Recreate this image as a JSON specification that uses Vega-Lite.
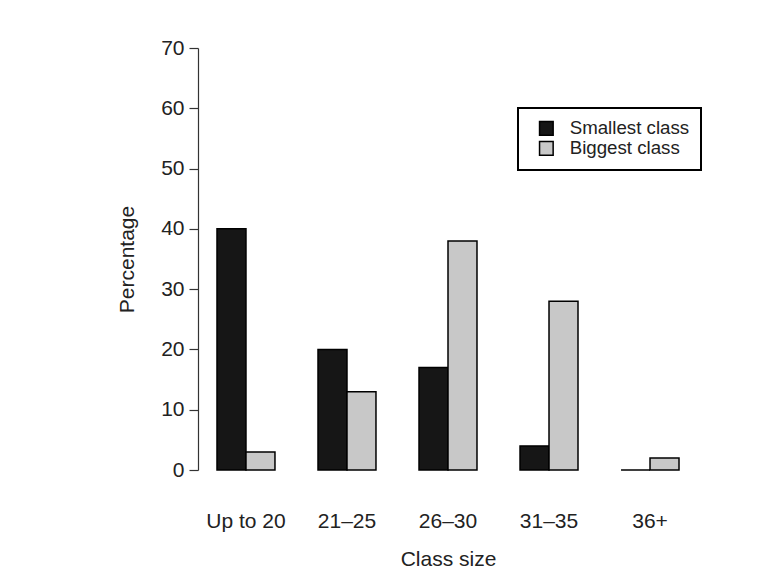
{
  "$schema": "https://vega.github.io/schema/vega-lite/v6.json",
  "width": 500,
  "height": 422,
  "autosize": {"type": "none"},
  "padding": {"left": 198, "top": 48, "right": 69, "bottom": 109},
  "background": "white",
  "config": {
    "view": {"stroke": null},
    "font": "Liberation Sans",
    "legend": {"strokeWidth": 2}
  },
  "data": {
    "values": [
      {"size": "Up to 20", "group": "Smallest class", "pct": 40},
      {"size": "Up to 20", "group": "Biggest class", "pct": 3},
      {"size": "21\u201325", "group": "Smallest class", "pct": 20},
      {"size": "21\u201325", "group": "Biggest class", "pct": 13},
      {"size": "26\u201330", "group": "Smallest class", "pct": 17},
      {"size": "26\u201330", "group": "Biggest class", "pct": 38},
      {"size": "31\u201335", "group": "Smallest class", "pct": 4},
      {"size": "31\u201335", "group": "Biggest class", "pct": 28},
      {"size": "36+", "group": "Smallest class", "pct": 0},
      {"size": "36+", "group": "Biggest class", "pct": 2}
    ]
  },
  "mark": {"type": "bar", "stroke": "black", "strokeWidth": 1.5, "opacity": 1},
  "encoding": {
    "x": {
      "field": "size",
      "type": "nominal",
      "scale": {
        "domain": ["Up to 20", "21\u201325", "26\u201330", "31\u201335", "36+"],
        "paddingInner": 0.426,
        "paddingOuter": 0.188
      },
      "title": "Class size",
      "axis": {
        "domain": false,
        "ticks": false,
        "labelAngle": 0,
        "labelFontSize": 21,
        "labelColor": "#222",
        "labelPadding": 40,
        "titleFontSize": 21,
        "titleFontWeight": "normal",
        "titleColor": "#222",
        "titlePadding": 17
      }
    },
    "xOffset": {
      "field": "group",
      "type": "nominal",
      "scale": {"domain": ["Smallest class", "Biggest class"]}
    },
    "y": {
      "field": "pct",
      "type": "quantitative",
      "scale": {"domain": [0, 70], "nice": false},
      "title": "Percentage",
      "axis": {
        "values": [0, 10, 20, 30, 40, 50, 60, 70],
        "grid": false,
        "domainColor": "#333",
        "domainWidth": 1.2,
        "tickColor": "#333",
        "tickWidth": 1.2,
        "tickSize": 9,
        "labelFontSize": 21,
        "labelColor": "#222",
        "labelPadding": 5,
        "titleFontSize": 21,
        "titleFontWeight": "normal",
        "titleColor": "#222",
        "titlePadding": 23
      }
    },
    "fill": {
      "field": "group",
      "type": "nominal",
      "scale": {
        "domain": ["Smallest class", "Biggest class"],
        "range": ["#161616", "#c8c8c8"]
      },
      "legend": {
        "title": null,
        "orient": "none",
        "legendX": 320,
        "legendY": 60,
        "strokeColor": "black",
        "padding": 11,
        "symbolType": "square",
        "symbolSize": 185,
        "symbolOffset": 8,
        "symbolStrokeColor": "black",
        "symbolStrokeWidth": 1.5,
        "symbolOpacity": 1,
        "labelFontSize": 18.7,
        "labelColor": "#222",
        "labelOffset": 14,
        "rowPadding": -5,
        "labelLimit": 300
      }
    }
  }
}
